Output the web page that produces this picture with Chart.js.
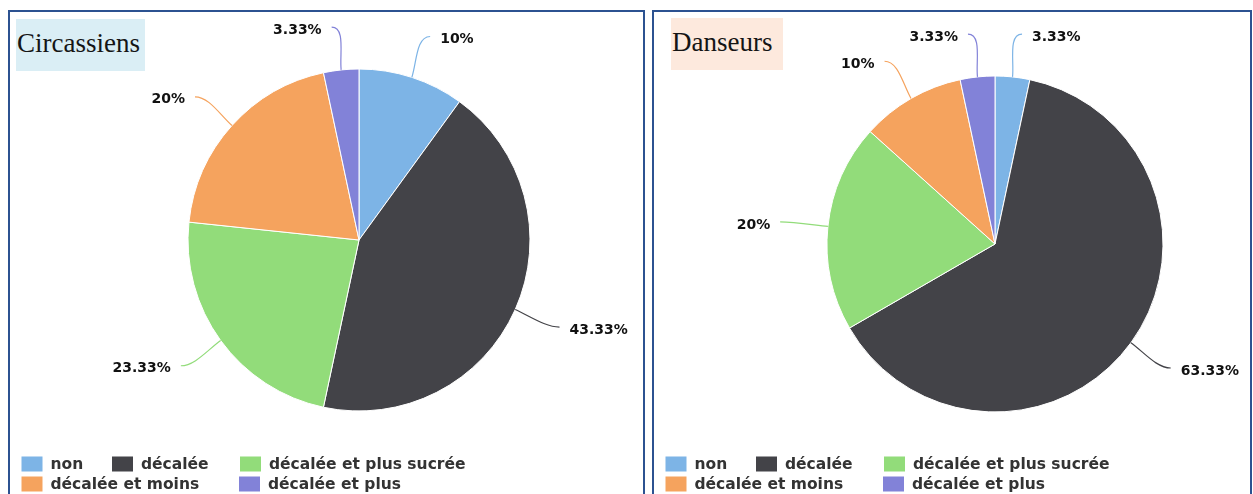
<!DOCTYPE html>
<html>
<head>
<meta charset="utf-8">
<script src="https://cdn.jsdelivr.net/npm/chart.js@4/dist/chart.umd.min.js"></script>
<style>
  html, body { margin: 0; padding: 0; background: #ffffff; overflow: hidden; }
  body { width: 1253px; height: 494px; position: relative; }
  .panel { position: absolute; top: 10px; height: 520px; border: 2px solid #2c5291; box-sizing: border-box; }
  #p1 { left: 8px; width: 637px; }
  #p2 { left: 652px; width: 600px; }
  .title { position: absolute; height: 52px; font-family: "Liberation Serif", "Times New Roman", serif; font-size: 27px; line-height: 48px; color: #151515; padding-left: 1px; box-sizing: border-box; }
  #t1 { left: 16px; top: 19px; width: 129px; background: #daeef5; }
  #t2 { left: 671px; top: 18px; width: 112px; background: #fde9dd; }
  canvas { position: absolute; left: 0; top: 0; }
</style>
</head>
<body>
<div class="panel" id="p1"></div>
<div class="panel" id="p2"></div>
<div class="title" id="t1">Circassiens</div>
<div class="title" id="t2">Danseurs</div>
<canvas id="c1" width="1253" height="494"></canvas>
<canvas id="c2" width="1253" height="494"></canvas>
<script>
// ---- data ----
const categories = ['non', 'décalée', 'décalée et plus sucrée', 'décalée et moins', 'décalée et plus'];
const circassiensValues = [10, 43.33, 23.33, 20, 3.33];
const danseursValues = [3.33, 63.33, 20, 10, 3.33];
const sliceColors = ['#7db4e6', '#434348', '#92dc7a', '#f5a35e', '#8282d8'];

// ---- plugins ----
const pieLabelsPlugin = {
  id: 'pieLabels',
  afterDatasetsDraw(chart, args, opts) {
    const ctx = chart.ctx;
    const meta = chart.getDatasetMeta(0);
    const ds = chart.data.datasets[0];
    ctx.save();
    meta.data.forEach((arc, i) => {
      const p = arc.getProps(['x', 'y', 'startAngle', 'endAngle', 'outerRadius'], true);
      const mid = (p.startAngle + p.endAngle) / 2;
      const c = Math.cos(mid), s = Math.sin(mid);
      const ex = p.x + c * p.outerRadius, ey = p.y + s * p.outerRadius;
      const d = p.outerRadius + opts.distance;
      const ax = p.x + c * d, ay = p.y + s * d;
      const right = c >= 0;
      const dir = right ? 1 : -1;
      const tx = ax + dir * opts.gap;
      const ty = ay + opts.dy;
      const lx = tx - dir * opts.lineGap, ly = ty - 3;
      ctx.beginPath();
      ctx.moveTo(ex, ey);
      ctx.bezierCurveTo(
        p.x + c * (p.outerRadius + opts.c1), p.y + s * (p.outerRadius + opts.c1),
        lx - dir * opts.c2, ly,
        lx, ly);
      ctx.strokeStyle = ds.backgroundColor[i];
      ctx.lineWidth = 1.2;
      ctx.stroke();
      const txt = ds.data[i] + '%';
      ctx.font = opts.font;
      ctx.textAlign = right ? 'left' : 'right';
      ctx.textBaseline = 'middle';
      ctx.lineJoin = 'round';
      ctx.strokeStyle = 'rgba(255,255,255,0.9)';
      ctx.lineWidth = 2;
      ctx.strokeText(txt, tx, ty);
      ctx.fillStyle = opts.color;
      ctx.fillText(txt, tx, ty);
    });
    ctx.restore();
  }
};

const boxLegendPlugin = {
  id: 'boxLegend',
  afterDraw(chart, args, opts) {
    const ctx = chart.ctx;
    const ds = chart.data.datasets[0];
    ctx.save();
    ctx.font = opts.font;
    ctx.textBaseline = 'middle';
    ctx.textAlign = 'left';
    opts.rows.forEach((row, r) => {
      const cy = opts.y + r * opts.rowHeight;
      row.forEach((idx, k) => {
        const x = opts.x + opts.columns[r][k];
        ctx.fillStyle = ds.backgroundColor[idx];
        ctx.fillRect(x, cy - opts.boxH / 2, opts.boxW, opts.boxH);
        ctx.fillStyle = opts.color;
        ctx.fillText(chart.data.labels[idx], x + opts.boxW + opts.textGap, cy + 1);
      });
    });
    ctx.restore();
  }
};

function makePie(id, values, cx, cy, radius, legendX) {
  const half = radius + 10;
  return new Chart(document.getElementById(id), {
    type: 'pie',
    data: {
      labels: categories,
      datasets: [{
        data: values,
        backgroundColor: sliceColors,
        borderColor: '#ffffff',
        borderWidth: 1
      }]
    },
    options: {
      responsive: false,
      animation: false,
      events: [],
      radius: radius,
      layout: { padding: { left: cx - half, right: 1253 - cx - half, top: cy - half, bottom: 494 - cy - half } },
      plugins: {
        legend: { display: false },
        tooltip: { enabled: false },
        pieLabels: { distance: 43, gap: 15, dy: 3, lineGap: 10, c1: 16, c2: 14, font: 'bold 14px "DejaVu Sans"', color: '#111111' },
        boxLegend: {
          x: legendX, y: 464, rowHeight: 20,
          rows: [[0, 1, 2], [3, 4]],
          columns: [[0, 90.5, 218.5], [0, 217.5]],
          boxW: 21, boxH: 15, textGap: 8,
          font: 'bold 15.5px "DejaVu Sans"', color: '#333333'
        }
      }
    },
    plugins: [pieLabelsPlugin, boxLegendPlugin]
  });
}

makePie('c1', circassiensValues, 359, 240, 171, 21.5);
makePie('c2', danseursValues, 995, 244, 168, 665.5);
</script>
</body>
</html>
